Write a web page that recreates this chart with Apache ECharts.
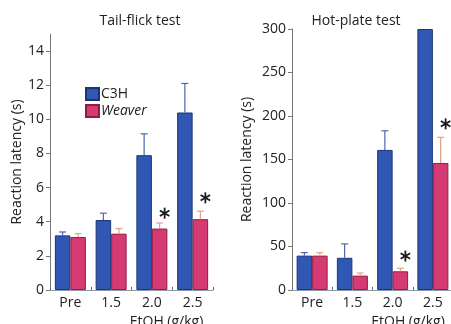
<!DOCTYPE html>
<html><head><meta charset="utf-8">
<script src="https://cdn.jsdelivr.net/npm/echarts@6/dist/echarts.min.js"></script>
<style>html,body{margin:0;padding:0;background:#fff}#c{width:451px;height:324px}</style>
</head><body><div id="c"></div>
<script>
const categories = ['Pre', '1.5', '2.0', '2.5'];
const seriesNames = ['C3H', 'Weaver'];
// Tail-flick test (s)
const tailC3H = [3.2, 4.1, 7.9, 10.4];
const tailC3HErr = [0.2, 0.4, 1.25, 1.7];
const tailWeaver = [3.1, 3.3, 3.6, 4.15];
const tailWeaverErr = [0.2, 0.3, 0.33, 0.47];
const tailSig = [null, null, 4.5, 5.4];
const tailTicks = [0, 2, 4, 6, 8, 10, 12, 14];
// Hot-plate test (s)
const hotC3H = [39.5, 37, 161, 300];
const hotC3HErr = [3.5, 16, 22, 0];
const hotWeaver = [39.5, 16.5, 21.5, 146];
const hotWeaverErr = [3.5, 3, 3.5, 29.5];
const hotSig = [null, null, 39, 191];
const hotTicks = [0, 50, 100, 150, 200, 250, 300];

const FONT = '"Open Sans", "Noto Sans", sans-serif';
const TXT = '#222';
const BAR_W = 15.5;
const blue = '#2f57b3', blueEdge = '#1b3577', blueErr = '#4d67ad';
const pink = '#d63a72', pinkEdge = '#8f1d45', pinkErr = '#e3a086';

function errSeries(name, grid, means, errs, sign, color) {
  return {
    type: 'custom', name: name + '_err', xAxisIndex: grid, yAxisIndex: grid, z: 3,
    data: means.map((m, i) => [i, m, errs[i]]),
    renderItem: function (params, api) {
      const err = api.value(2);
      if (!err) return;
      const base = api.coord([api.value(0), api.value(1)]);
      const top = api.coord([api.value(0), api.value(1) + err]);
      const x = base[0] + sign * BAR_W / 2;
      return { type: 'group', children: [
        { type: 'line', shape: { x1: x, y1: base[1], x2: x, y2: top[1] }, style: { stroke: color, lineWidth: 1.2 } },
        { type: 'line', shape: { x1: x - 3.5, y1: top[1], x2: x + 3.5, y2: top[1] }, style: { stroke: color, lineWidth: 1.2 } }
      ]};
    }
  };
}
function sigSeries(grid, vals) {
  return {
    type: 'custom', name: 'sig' + grid, xAxisIndex: grid, yAxisIndex: grid, z: 4,
    data: vals.map((v, i) => [i, v]).filter(d => d[1] != null),
    renderItem: function (params, api) {
      const p = api.coord([api.value(0), api.value(1)]);
      const cx = p[0] + BAR_W / 2 + 5, cy = p[1], r = 5.5;
      const ch = [];
      [90, 30, 150].forEach(a => {
        const t = a * Math.PI / 180;
        ch.push({ type: 'line', shape: { x1: cx - r * Math.cos(t), y1: cy - r * Math.sin(t), x2: cx + r * Math.cos(t), y2: cy + r * Math.sin(t) }, style: { stroke: '#1a1a1a', lineWidth: 1.8 } });
      });
      return { type: 'group', children: ch };
    }
  };
}
function barSeries(name, grid, data, fill, edge) {
  return {
    type: 'bar', name: name, xAxisIndex: grid, yAxisIndex: grid, data: data,
    barWidth: BAR_W, barGap: '0%', z: 2,
    itemStyle: { color: fill, borderColor: edge, borderWidth: 1 }
  };
}
function xAx(grid, padLeft) {
  return {
    type: 'category', gridIndex: grid, data: categories,
    axisLine: { lineStyle: { color: '#8a9aa6', width: 1 } },
    axisTick: { show: true, inside: true, length: 3, lineStyle: { color: '#666' } },
    axisLabel: { color: TXT, fontSize: 14, fontFamily: FONT, margin: 6 },
    name: 'EtOH (g/kg)', nameLocation: 'middle', nameGap: 20,
    nameTextStyle: { color: TXT, fontSize: 14, fontFamily: FONT, padding: [0, 0, 0, padLeft] }
  };
}
function yAx(grid, max, interval, ticks, gap) {
  return {
    type: 'value', gridIndex: grid, min: 0, max: max, interval: interval,
    splitLine: { show: false },
    axisLine: { show: true, lineStyle: { color: '#777', width: 1 } },
    axisTick: { show: true, length: 4, lineStyle: { color: '#777' }, customValues: ticks },
    axisLabel: { color: TXT, fontSize: 14, fontFamily: FONT, margin: 6, customValues: ticks },
    name: 'Reaction latency (s)', nameLocation: 'middle', nameGap: gap, nameRotate: 90,
    nameTextStyle: { color: TXT, fontSize: 14, fontFamily: FONT }
  };
}

const chart = echarts.init(document.getElementById('c'), null, { renderer: 'canvas' });
chart.setOption({
  backgroundColor: '#fff',
  animation: false,
  title: [
    { text: 'Tail-flick test', left: 135, top: 9, textAlign: 'center', textStyle: { color: TXT, fontSize: 14, fontWeight: 'normal', fontFamily: FONT } },
    { text: 'Hot-plate test', left: 351, top: 9, textAlign: 'center', textStyle: { color: TXT, fontSize: 14, fontWeight: 'normal', fontFamily: FONT } }
  ],
  legend: {
    data: seriesNames, orient: 'vertical', left: 80, top: 82, itemWidth: 13, itemHeight: 12, itemGap: 3,
    icon: 'rect',
    textStyle: { color: TXT, fontSize: 14, fontFamily: FONT, padding: [0, 0, 0, -3], rich: { i: { fontStyle: 'italic', fontSize: 14, fontFamily: FONT, color: TXT } } },
    formatter: n => n === 'Weaver' ? '{i|Weaver}' : n
  },
  grid: [
    { left: 50, top: 34, width: 163, height: 256, outerBoundsMode: 'none', containLabel: false },
    { left: 292, top: 29, width: 161, height: 261, outerBoundsMode: 'none', containLabel: false }
  ],
  xAxis: [xAx(0, 70), xAx(1, 71)],
  yAxis: [yAx(0, 15, 2, tailTicks, 26), yAx(1, 300, 50, hotTicks, 38)],
  series: [
    barSeries('C3H', 0, tailC3H, blue, blueEdge),
    barSeries('Weaver', 0, tailWeaver, pink, pinkEdge),
    barSeries('C3H', 1, hotC3H, blue, blueEdge),
    barSeries('Weaver', 1, hotWeaver, pink, pinkEdge),
    errSeries('C3H', 0, tailC3H, tailC3HErr, -1, blueErr),
    errSeries('Weaver', 0, tailWeaver, tailWeaverErr, 1, pinkErr),
    errSeries('C3H', 1, hotC3H, hotC3HErr, -1, blueErr),
    errSeries('Weaver', 1, hotWeaver, hotWeaverErr, 1, pinkErr),
    sigSeries(0, tailSig),
    sigSeries(1, hotSig)
  ]
});
</script></body></html>
